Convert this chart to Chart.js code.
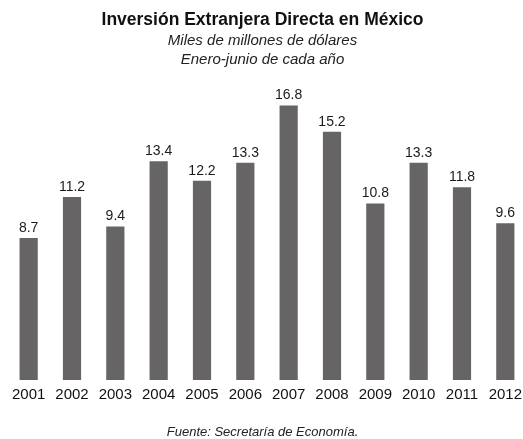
<!DOCTYPE html>
<html>
<head>
<meta charset="utf-8">
<script src="https://cdn.jsdelivr.net/npm/chart.js@4"></script>
<style>
    html, body { margin: 0; padding: 0; background: #fff; overflow: hidden; }
    #wrap { width: 523px; height: 439px; overflow: hidden; }
</style>
</head>
<body>
<div id="wrap"><canvas id="iedChart" width="528" height="439"></canvas></div>
<script>
// ===== DATA =====
const years = ['2001', '2002', '2003', '2004', '2005', '2006', '2007', '2008', '2009', '2010', '2011', '2012'];
const ied = [8.7, 11.2, 9.4, 13.4, 12.2, 13.3, 16.8, 15.2, 10.8, 13.3, 11.8, 9.6];

const titleText = 'Inversión Extranjera Directa en México';
const subtitleLines = ['Miles de millones de dólares', 'Enero-junio de cada año'];
const footerText = 'Fuente: Secretaría de Economía.';

const FONT = '"Liberation Sans", Arial, sans-serif';

// Headings, value labels and source line drawn straight on the canvas
const textPlugin = {
    id: 'textPlugin',
    afterDatasetsDraw(chart) {
        const ctx = chart.ctx;
        const cx = chart.width / 2 - 1.5;
        ctx.save();
        ctx.textAlign = 'center';
        ctx.textBaseline = 'middle';

        ctx.fillStyle = '#111';
        ctx.font = 'bold 17.5px ' + FONT;
        ctx.fillText(titleText, cx, 20);

        ctx.fillStyle = '#222';
        ctx.font = 'italic 15px ' + FONT;
        subtitleLines.forEach((line, i) => ctx.fillText(line, cx, 41 + i * 19));

        ctx.font = 'italic 13px ' + FONT;
        ctx.fillText(footerText, cx, 432);

        // values above each bar
        ctx.fillStyle = '#1a1a1a';
        ctx.font = '14px ' + FONT;
        ctx.textBaseline = 'bottom';
        const meta = chart.getDatasetMeta(0);
        meta.data.forEach((bar, i) => {
            ctx.fillText(ied[i].toFixed(1), bar.x, bar.y - 3);
        });
        ctx.restore();
    }
};

const ctx = document.getElementById('iedChart').getContext('2d');
new Chart(ctx, {
    type: 'bar',
    data: {
        labels: years,
        datasets: [{
            label: 'IED',
            data: ied,
            backgroundColor: '#666464',
            borderWidth: 0,
            barPercentage: 0.42,
            categoryPercentage: 1.0,
        }]
    },
    options: {
        responsive: false,
        animation: false,
        layout: { padding: { top: 86, bottom: 29, left: 7, right: 0 } },
        plugins: {
            legend: { display: false },
            tooltip: { enabled: false },
            title: { display: false }
        },
        scales: {
            x: {
                grid: { display: false, drawTicks: false },
                border: { display: false },
                ticks: {
                    color: '#111',
                    padding: 6,
                    font: { family: FONT, size: 15 }
                }
            },
            y: {
                display: false,
                min: 0,
                max: 18
            }
        }
    },
    plugins: [textPlugin]
});
</script>
</body>
</html>
